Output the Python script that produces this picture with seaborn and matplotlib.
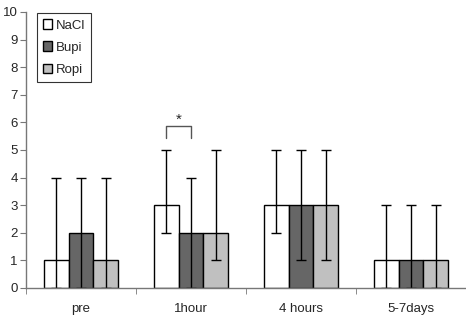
import numpy as np
import pandas as pd
import matplotlib
matplotlib.use("Agg")
import matplotlib.pyplot as plt
import seaborn as sns

timepoints = ["pre", "1hour", "4 hours", "5-7days"]
groups = ["NaCl", "Bupi", "Ropi"]
medians = {"NaCl": [1, 3, 3, 1], "Bupi": [2, 2, 3, 1], "Ropi": [1, 2, 3, 1]}
lows = {"NaCl": [0, 2, 2, 0], "Bupi": [0, 0, 1, 0], "Ropi": [0, 1, 1, 0]}
highs = {"NaCl": [4, 5, 5, 3], "Bupi": [4, 4, 5, 3], "Ropi": [4, 5, 5, 3]}
colors = ["#ffffff", "#666666", "#c0c0c0"]

rows = []
for g in groups:
    for i, t in enumerate(timepoints):
        rows.append({"time": t, "group": g, "value": medians[g][i]})
df = pd.DataFrame(rows)

sns.set_style("white")
plt.rcParams["font.family"] = ["Liberation Sans", "DejaVu Sans"]

fig = plt.figure(figsize=(4.66, 3.18), dpi=100)
ax = fig.add_axes([26 / 466, 30 / 318, 440 / 466, 276 / 318])

sns.barplot(data=df, x="time", y="value", hue="group", order=timepoints,
            hue_order=groups, palette=colors, width=0.67, edgecolor="black",
            linewidth=1, errorbar=None, ax=ax)

# error bars at bar centres (range)
for gi, g in enumerate(groups):
    cont = ax.containers[gi]
    xs = [p.get_x() + p.get_width() / 2 for p in cont.patches]
    m = np.array(medians[g])
    yerr = [m - np.array(lows[g]), np.array(highs[g]) - m]
    ax.errorbar(xs, m, yerr=yerr, fmt="none", ecolor="black", elinewidth=1,
                capsize=3.5, capthick=1)

# significance bracket
c = ax.containers
x1 = c[0].patches[1].get_x() + c[0].patches[1].get_width() / 2
x2 = c[1].patches[1].get_x() + c[1].patches[1].get_width() / 2
ax.plot([x1, x1, x2, x2], [5.45, 5.87, 5.87, 5.45], color="#555555", lw=1)
ax.text((x1 + x2) / 2, 5.85, "*", ha="center", va="bottom", fontsize=11)

ax.set_xlim(-0.5, 3.5)
ax.set_ylim(0, 10)
ax.set_yticks(range(0, 11))
ax.set_xticks(np.arange(-0.5, 3.6, 1), minor=True)
ax.tick_params(axis="x", which="major", length=0, pad=11, labelsize=9.5)
ax.tick_params(axis="x", which="minor", length=4, direction="out",
               color="#777777", bottom=True)
ax.tick_params(axis="y", length=4, direction="out", color="#777777",
               left=True, labelsize=9.5, pad=2)
ax.set_xlabel("")
ax.set_ylabel("")
sns.despine(ax=ax)
for s in ["left", "bottom"]:
    ax.spines[s].set_color("#777777")
    ax.spines[s].set_linewidth(1)

leg = ax.legend(loc="upper left", bbox_to_anchor=(0.025, 0.995), frameon=True,
                fancybox=False, edgecolor="black", fontsize=9.5,
                handlelength=0.7, handleheight=0.7, handletextpad=0.3,
                labelspacing=0.75, borderpad=0.45, borderaxespad=0)
leg.get_frame().set_linewidth(0.8)

fig.savefig("out.png", dpi=100)
